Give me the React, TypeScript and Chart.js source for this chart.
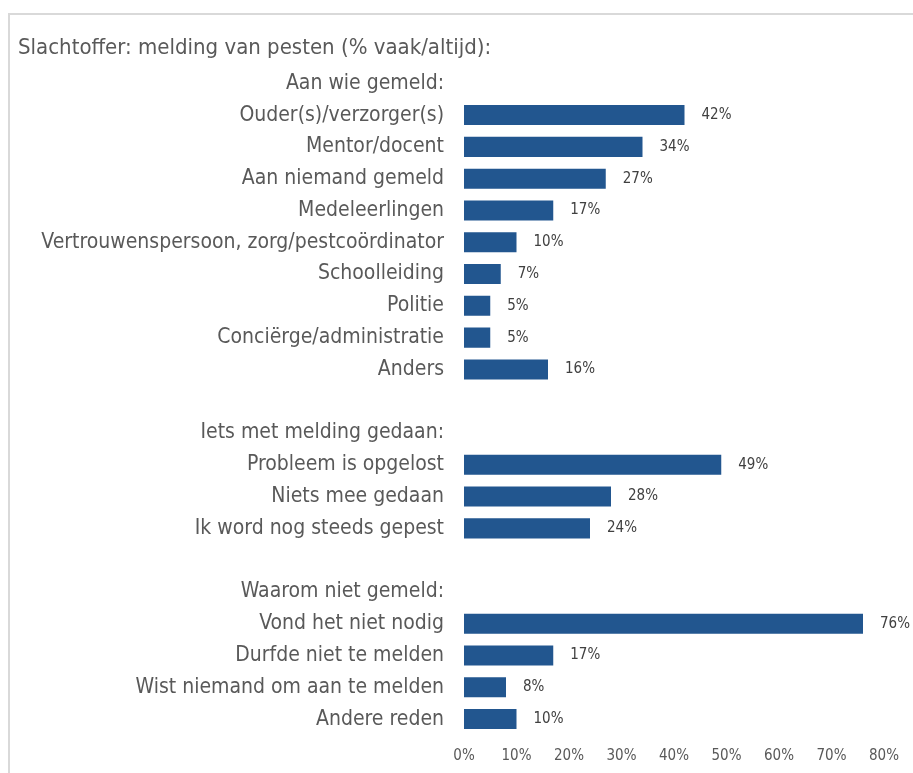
import React, { useEffect, useRef } from "react";
import { Chart, registerables } from "chart.js";

Chart.register(...registerables);

const categories: string[] = [
  "Aan wie gemeld:",
  "Ouder(s)/verzorger(s)",
  "Mentor/docent",
  "Aan niemand gemeld",
  "Medeleerlingen",
  "Vertrouwenspersoon, zorg/pestcoördinator",
  "Schoolleiding",
  "Politie",
  "Conciërge/administratie",
  "Anders",
  "",
  "Iets met melding gedaan:",
  "Probleem is opgelost",
  "Niets mee gedaan",
  "Ik word nog steeds gepest",
  "",
  "Waarom niet gemeld:",
  "Vond het niet nodig",
  "Durfde niet te melden",
  "Wist niemand om aan te melden",
  "Andere reden",
];

const values: (number | null)[] = [
  null, 42, 34, 27, 17, 10, 7, 5, 5, 16,
  null,
  null, 49, 28, 24,
  null,
  null, 76, 17, 8, 10,
];

const xMin = 0;
const xMax = 80;
const xStep = 10;

const title = "Slachtoffer: melding van pesten (% vaak/altijd):";

const FONT = "'DejaVu Sans Condensed', 'DejaVu Sans', sans-serif";

const valueLabels = {
  id: "valueLabels",
  afterDatasetsDraw(chart: any) {
    const ctx = chart.ctx;
    const meta = chart.getDatasetMeta(0);
    ctx.save();
    ctx.font = `15px ${FONT}`;
    ctx.fillStyle = "#404040";
    ctx.textAlign = "left";
    ctx.textBaseline = "middle";
    meta.data.forEach((el: any, i: number) => {
      const v = values[i];
      if (v === null || v === undefined) return;
      ctx.fillText(`${v}%`, el.x + 17, el.y);
    });
    ctx.restore();
  },
};

export default function App() {
  const ref = useRef<HTMLCanvasElement | null>(null);

  useEffect(() => {
    if (!ref.current) return;
    const chart = new Chart(ref.current, {
      type: "bar",
      data: {
        labels: categories,
        datasets: [
          {
            data: values as any,
            backgroundColor: "#22568F",
            borderWidth: 0,
            barPercentage: 0.7,
            categoryPercentage: 0.9,
          },
        ],
      },
      options: {
        indexAxis: "y",
        animation: false,
        responsive: true,
        maintainAspectRatio: false,
        layout: { padding: { left: 8, right: 29, top: 0, bottom: -4 } },
        plugins: {
          legend: { display: false },
          tooltip: { enabled: false },
          title: {
            display: true,
            text: title,
            align: "start",
            color: "#595959",
            font: { family: FONT, size: 22, weight: "normal" },
            padding: { top: 20, bottom: 6 },
          },
        },
        scales: {
          x: {
            min: xMin,
            max: xMax,
            grid: { display: false, drawTicks: false },
            border: { display: false },
            ticks: {
              stepSize: xStep,
              padding: 12,
              color: "#595959",
              font: { family: FONT, size: 15 },
              callback: (v: any) => `${v}%`,
            },
          },
          y: {
            grid: { display: false, drawTicks: false },
            border: { display: false },
            afterFit: (scale: any) => {
              scale.width = 446;
            },
            ticks: {
              padding: 20,
              color: "#595959",
              autoSkip: false,
              font: { family: FONT, size: 21 },
            },
          },
        },
      },
      plugins: [valueLabels],
    });
    return () => chart.destroy();
  }, []);

  return (
    <div>
      <div
        style={{
          position: "absolute",
          left: 8,
          top: 13,
          width: 1000,
          height: 1000,
          borderLeft: "2px solid #d9d9d9",
          borderTop: "2px solid #d9d9d9",
          boxSizing: "border-box",
        }}
      />
      <div
        style={{
          position: "absolute",
          left: 10,
          top: 15,
          width: 903,
          height: 758,
        }}
      >
        <canvas ref={ref} />
      </div>
    </div>
  );
}
